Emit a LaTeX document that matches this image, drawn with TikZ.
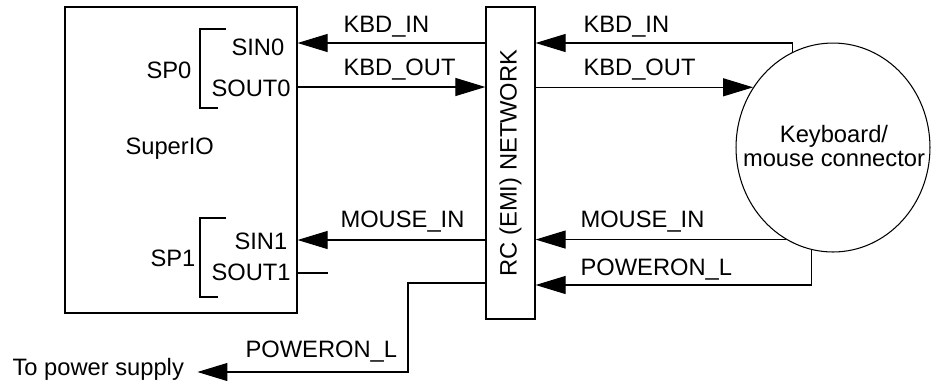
\documentclass[tikz,border=0pt]{standalone}
\usepackage{fontspec}
\setmainfont{Liberation Sans}
\usetikzlibrary{arrows.meta, positioning, shapes.geometric}

\begin{document}
\begin{tikzpicture}[x=0.02cm, y=-0.02cm, line width=0.6pt,
    >={Triangle[length=0.6cm, width=0.36cm]},
    every node/.style={font=\fontsize{13.5}{14}\selectfont},
    box/.style={draw, rectangle, inner sep=0pt, line width=0.7pt},
    lbl/.style={anchor=base west, inner sep=0pt}]
  \useasboundingbox (0,0) rectangle (931,380);

  % blocks
  \node[box, minimum width=4.64cm, minimum height=6.12cm] (sio) at (181,160) {};
  \node[box, minimum width=0.98cm, minimum height=6.24cm] (rc) at (510.5,163) {};
  \node[rotate=90] (rctxt) at (rc.center) {RC (EMI) NETWORK};
  \node[draw, ellipse, minimum width=3.88cm, minimum height=4.18cm,
        inner sep=0pt] (kbc) at (833,147.5) {};
  \node[align=center] (kbctxt) at (834,146) {Keyboard/\\mouse connector};

  % SuperIO ports
  \node[lbl] (siolbl) at (125,154) {SuperIO};
  \node[lbl] (sp0) at (146,78) {SP0};
  \node[lbl] (sin0) at (231,55) {SIN0};
  \node[lbl] (sout0) at (211,96) {SOUT0};
  \node[lbl] (sp1) at (150,266) {SP1};
  \node[lbl] (sin1) at (234,249) {SIN1};
  \node[lbl] (sout1) at (211,280) {SOUT1};
  \draw (226,29) -| (200,108) -- (218,108);
  \draw (226,218) -| (200,297) -- (218,297);

  % signal names
  \node[lbl] (kin1) at (343,32) {KBD\_IN};
  \node[lbl] (kout1) at (343,75) {KBD\_OUT};
  \node[lbl] (kin2) at (583,32) {KBD\_IN};
  \node[lbl] (kout2) at (583,75) {KBD\_OUT};
  \node[lbl] (min1) at (340,227) {MOUSE\_IN};
  \node[lbl] (min2) at (580,227) {MOUSE\_IN};
  \node[lbl] (pwr2) at (580,275) {POWERON\_L};
  \node[lbl] (pwr1) at (245,357) {POWERON\_L};
  \node[lbl] (psu) at (12,375) {To power supply};

  % SuperIO <-> RC network
  \draw[->] (rc.west |- 0,43) -- (sio.east |- 0,43);
  \draw[->] (sio.east |- 0,87) -- (rc.west |- 0,87);
  \draw[->] (rc.west |- 0,240) -- (sio.east |- 0,240);
  \coordinate (sout1end) at (328,273);
  \draw (sio.east |- sout1end) -- (sout1end);
  \coordinate (pwrbend) at (408,372);
  \draw[->, shorten >=0.26cm] (rc.west |- 0,283) -| (pwrbend) -- (psu.east |- pwrbend);

  % RC network <-> connector
  \draw[->] (kbc.113) |- (rc.east |- 0,43);
  \draw[->] (kbc.143 -| rc.east) -- (kbc.143);
  \draw[->] (kbc.243) -- (kbc.243 -| rc.east);
  \draw[->] (kbc.258) |- (rc.east |- 0,285);
\end{tikzpicture}
\end{document}
